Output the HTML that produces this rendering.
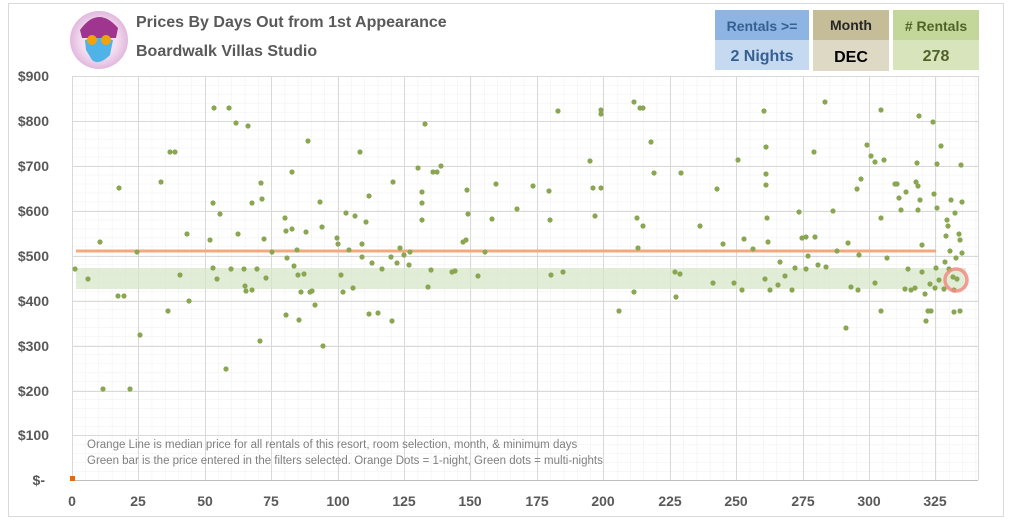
<!DOCTYPE html>
<html><head><meta charset="utf-8"><style>
body{margin:0;background:#fff;width:1009px;height:525px;overflow:hidden}
</style></head><body>
<svg width="1009" height="525" viewBox="0 0 1009 525" xmlns="http://www.w3.org/2000/svg" font-family="Liberation Sans, sans-serif">
<rect x="8.5" y="3.5" width="995" height="513" fill="#fff" stroke="#d9d9d9"/>
<defs>
<pattern id="minor" x="72" y="76" width="13.29" height="8.98" patternUnits="userSpaceOnUse">
<path d="M0 0H13.29M0 0V8.98" stroke="#efefef" stroke-width="1" fill="none"/>
</pattern>
<radialGradient id="lg" cx="50%" cy="50%" r="50%"><stop offset="0.6" stop-color="#f3dff0"/><stop offset="1" stop-color="#e2b8de"/></radialGradient>
</defs>
<rect x="72" y="76" width="906" height="404" fill="url(#minor)"/>
<g stroke="#d9d9d9" stroke-width="1">
<line x1="72" y1="76.5" x2="978" y2="76.5"/><line x1="72" y1="121.5" x2="978" y2="121.5"/><line x1="72" y1="166.5" x2="978" y2="166.5"/><line x1="72" y1="211.5" x2="978" y2="211.5"/><line x1="72" y1="256.5" x2="978" y2="256.5"/><line x1="72" y1="301.5" x2="978" y2="301.5"/><line x1="72" y1="346.5" x2="978" y2="346.5"/><line x1="72" y1="391.5" x2="978" y2="391.5"/><line x1="72" y1="435.5" x2="978" y2="435.5"/>
<line x1="72.5" y1="76" x2="72.5" y2="480"/><line x1="138.5" y1="76" x2="138.5" y2="480"/><line x1="205.5" y1="76" x2="205.5" y2="480"/><line x1="271.5" y1="76" x2="271.5" y2="480"/><line x1="338.5" y1="76" x2="338.5" y2="480"/><line x1="404.5" y1="76" x2="404.5" y2="480"/><line x1="470.5" y1="76" x2="470.5" y2="480"/><line x1="537.5" y1="76" x2="537.5" y2="480"/><line x1="603.5" y1="76" x2="603.5" y2="480"/><line x1="670.5" y1="76" x2="670.5" y2="480"/><line x1="736.5" y1="76" x2="736.5" y2="480"/><line x1="803.5" y1="76" x2="803.5" y2="480"/><line x1="869.5" y1="76" x2="869.5" y2="480"/><line x1="935.5" y1="76" x2="935.5" y2="480"/><line x1="978.5" y1="76" x2="978.5" y2="480"/>
</g>
<line x1="72" y1="480.5" x2="978" y2="480.5" stroke="#bfbfbf"/>
<rect x="76" y="268" width="890" height="21" fill="#d4e6c4" opacity="0.7"/>
<line x1="76" y1="251" x2="936" y2="251" stroke="#f4a97c" stroke-width="3"/>
<g fill="#595959" font-weight="bold" font-size="14" text-anchor="end">
<text x="49" y="81">$900</text><text x="49" y="126">$800</text><text x="49" y="171">$700</text><text x="49" y="216">$600</text><text x="49" y="261">$500</text><text x="49" y="306">$400</text><text x="49" y="351">$300</text><text x="49" y="396">$200</text><text x="49" y="440">$100</text><text x="45" y="485">$-</text>
</g>
<g fill="#595959" font-weight="bold" font-size="14" text-anchor="middle">
<text x="72" y="506">0</text><text x="138" y="506">25</text><text x="205" y="506">50</text><text x="271" y="506">75</text><text x="338" y="506">100</text><text x="404" y="506">125</text><text x="470" y="506">150</text><text x="537" y="506">175</text><text x="603" y="506">200</text><text x="670" y="506">225</text><text x="736" y="506">250</text><text x="803" y="506">275</text><text x="869" y="506">300</text><text x="935" y="506">325</text>
</g>
<g fill="#7f7f7f" font-size="11.5">
<text x="87" y="448">Orange Line is median price for all rentals of this resort, room selection, month, &amp; minimum days</text>
<text x="87" y="464">Green bar is the price entered in the filters selected. Orange Dots = 1-night, Green dots = multi-nights</text>
</g>
<rect x="70" y="476" width="5" height="5" fill="#e36c0a"/>
<g fill="#8aa652">
<circle cx="75" cy="269" r="2.6"/><circle cx="88" cy="279" r="2.6"/><circle cx="100" cy="242" r="2.6"/><circle cx="103" cy="389" r="2.6"/><circle cx="118" cy="296" r="2.6"/><circle cx="119" cy="188" r="2.6"/><circle cx="124" cy="296" r="2.6"/><circle cx="137" cy="252" r="2.6"/><circle cx="140" cy="335" r="2.6"/><circle cx="161" cy="182" r="2.6"/><circle cx="168" cy="311" r="2.6"/><circle cx="170" cy="152" r="2.6"/><circle cx="175" cy="152" r="2.6"/><circle cx="180" cy="275" r="2.6"/><circle cx="187" cy="234" r="2.6"/><circle cx="189" cy="301" r="2.6"/><circle cx="213" cy="268" r="2.6"/><circle cx="210" cy="240" r="2.6"/><circle cx="213" cy="203" r="2.6"/><circle cx="214" cy="108" r="2.6"/><circle cx="217" cy="279" r="2.6"/><circle cx="220" cy="214" r="2.6"/><circle cx="226" cy="369" r="2.6"/><circle cx="229" cy="108" r="2.6"/><circle cx="231" cy="269" r="2.6"/><circle cx="236" cy="123" r="2.6"/><circle cx="238" cy="234" r="2.6"/><circle cx="244" cy="269" r="2.6"/><circle cx="245" cy="286" r="2.6"/><circle cx="246" cy="291" r="2.6"/><circle cx="248" cy="126" r="2.6"/><circle cx="252" cy="203" r="2.6"/><circle cx="252" cy="290" r="2.6"/><circle cx="257" cy="269" r="2.6"/><circle cx="260" cy="341" r="2.6"/><circle cx="261" cy="183" r="2.6"/><circle cx="262" cy="199" r="2.6"/><circle cx="264" cy="239" r="2.6"/><circle cx="266" cy="278" r="2.6"/><circle cx="272" cy="252" r="2.6"/><circle cx="286" cy="315" r="2.6"/><circle cx="285" cy="218" r="2.6"/><circle cx="286" cy="231" r="2.6"/><circle cx="287" cy="258" r="2.6"/><circle cx="292" cy="172" r="2.6"/><circle cx="292" cy="229" r="2.6"/><circle cx="294" cy="266" r="2.6"/><circle cx="297" cy="250" r="2.6"/><circle cx="298" cy="275" r="2.6"/><circle cx="299" cy="320" r="2.6"/><circle cx="301" cy="292" r="2.6"/><circle cx="304" cy="274" r="2.6"/><circle cx="306" cy="232" r="2.6"/><circle cx="308" cy="141" r="2.6"/><circle cx="310" cy="292" r="2.6"/><circle cx="312" cy="291" r="2.6"/><circle cx="315" cy="305" r="2.6"/><circle cx="320" cy="202" r="2.6"/><circle cx="322" cy="227" r="2.6"/><circle cx="323" cy="346" r="2.6"/><circle cx="337" cy="238" r="2.6"/><circle cx="338" cy="244" r="2.6"/><circle cx="341" cy="275" r="2.6"/><circle cx="343" cy="292" r="2.6"/><circle cx="346" cy="213" r="2.6"/><circle cx="349" cy="250" r="2.6"/><circle cx="353" cy="288" r="2.6"/><circle cx="355" cy="216" r="2.6"/><circle cx="360" cy="152" r="2.6"/><circle cx="362" cy="244" r="2.6"/><circle cx="362" cy="257" r="2.6"/><circle cx="366" cy="222" r="2.6"/><circle cx="369" cy="314" r="2.6"/><circle cx="369" cy="196" r="2.6"/><circle cx="372" cy="263" r="2.6"/><circle cx="378" cy="313" r="2.6"/><circle cx="382" cy="269" r="2.6"/><circle cx="391" cy="257" r="2.6"/><circle cx="392" cy="321" r="2.6"/><circle cx="393" cy="182" r="2.6"/><circle cx="397" cy="263" r="2.6"/><circle cx="400" cy="248" r="2.6"/><circle cx="404" cy="255" r="2.6"/><circle cx="409" cy="265" r="2.6"/><circle cx="410" cy="252" r="2.6"/><circle cx="422" cy="220" r="2.6"/><circle cx="422" cy="203" r="2.6"/><circle cx="422" cy="192" r="2.6"/><circle cx="418" cy="168" r="2.6"/><circle cx="425" cy="124" r="2.6"/><circle cx="428" cy="287" r="2.6"/><circle cx="431" cy="270" r="2.6"/><circle cx="433" cy="172" r="2.6"/><circle cx="437" cy="172" r="2.6"/><circle cx="441" cy="166" r="2.6"/><circle cx="452" cy="272" r="2.6"/><circle cx="455" cy="271" r="2.6"/><circle cx="463" cy="242" r="2.6"/><circle cx="466" cy="240" r="2.6"/><circle cx="467" cy="190" r="2.6"/><circle cx="468" cy="214" r="2.6"/><circle cx="485" cy="252" r="2.6"/><circle cx="478" cy="276" r="2.6"/><circle cx="492" cy="219" r="2.6"/><circle cx="496" cy="184" r="2.6"/><circle cx="517" cy="209" r="2.6"/><circle cx="533" cy="186" r="2.6"/><circle cx="549" cy="191" r="2.6"/><circle cx="550" cy="220" r="2.6"/><circle cx="551" cy="275" r="2.6"/><circle cx="558" cy="111" r="2.6"/><circle cx="563" cy="272" r="2.6"/><circle cx="590" cy="161" r="2.6"/><circle cx="593" cy="188" r="2.6"/><circle cx="595" cy="216" r="2.6"/><circle cx="601" cy="114" r="2.6"/><circle cx="601" cy="110" r="2.6"/><circle cx="601" cy="188" r="2.6"/><circle cx="619" cy="311" r="2.6"/><circle cx="634" cy="102" r="2.6"/><circle cx="634" cy="292" r="2.6"/><circle cx="637" cy="218" r="2.6"/><circle cx="638" cy="248" r="2.6"/><circle cx="640" cy="108" r="2.6"/><circle cx="643" cy="108" r="2.6"/><circle cx="643" cy="226" r="2.6"/><circle cx="651" cy="142" r="2.6"/><circle cx="654" cy="173" r="2.6"/><circle cx="675" cy="272" r="2.6"/><circle cx="676" cy="297" r="2.6"/><circle cx="681" cy="173" r="2.6"/><circle cx="680" cy="274" r="2.6"/><circle cx="700" cy="226" r="2.6"/><circle cx="713" cy="283" r="2.6"/><circle cx="717" cy="189" r="2.6"/><circle cx="723" cy="244" r="2.6"/><circle cx="734" cy="283" r="2.6"/><circle cx="738" cy="160" r="2.6"/><circle cx="742" cy="290" r="2.6"/><circle cx="744" cy="239" r="2.6"/><circle cx="753" cy="249" r="2.6"/><circle cx="764" cy="111" r="2.6"/><circle cx="766" cy="147" r="2.6"/><circle cx="766" cy="185" r="2.6"/><circle cx="766" cy="174" r="2.6"/><circle cx="767" cy="218" r="2.6"/><circle cx="768" cy="242" r="2.6"/><circle cx="765" cy="279" r="2.6"/><circle cx="770" cy="290" r="2.6"/><circle cx="778" cy="285" r="2.6"/><circle cx="780" cy="262" r="2.6"/><circle cx="785" cy="276" r="2.6"/><circle cx="792" cy="290" r="2.6"/><circle cx="795" cy="268" r="2.6"/><circle cx="799" cy="212" r="2.6"/><circle cx="802" cy="238" r="2.6"/><circle cx="806" cy="237" r="2.6"/><circle cx="806" cy="269" r="2.6"/><circle cx="808" cy="256" r="2.6"/><circle cx="814" cy="152" r="2.6"/><circle cx="815" cy="237" r="2.6"/><circle cx="818" cy="265" r="2.6"/><circle cx="825" cy="102" r="2.6"/><circle cx="826" cy="267" r="2.6"/><circle cx="833" cy="211" r="2.6"/><circle cx="837" cy="251" r="2.6"/><circle cx="848" cy="243" r="2.6"/><circle cx="846" cy="328" r="2.6"/><circle cx="851" cy="287" r="2.6"/><circle cx="858" cy="290" r="2.6"/><circle cx="857" cy="189" r="2.6"/><circle cx="859" cy="255" r="2.6"/><circle cx="861" cy="179" r="2.6"/><circle cx="867" cy="145" r="2.6"/><circle cx="871" cy="156" r="2.6"/><circle cx="875" cy="162" r="2.6"/><circle cx="875" cy="283" r="2.6"/><circle cx="881" cy="311" r="2.6"/><circle cx="881" cy="110" r="2.6"/><circle cx="881" cy="218" r="2.6"/><circle cx="884" cy="160" r="2.6"/><circle cx="887" cy="258" r="2.6"/><circle cx="895" cy="184" r="2.6"/><circle cx="897" cy="184" r="2.6"/><circle cx="899" cy="198" r="2.6"/><circle cx="901" cy="210" r="2.6"/><circle cx="905" cy="289" r="2.6"/><circle cx="906" cy="192" r="2.6"/><circle cx="908" cy="269" r="2.6"/><circle cx="911" cy="290" r="2.6"/><circle cx="915" cy="288" r="2.6"/><circle cx="916" cy="182" r="2.6"/><circle cx="918" cy="186" r="2.6"/><circle cx="917" cy="163" r="2.6"/><circle cx="919" cy="116" r="2.6"/><circle cx="918" cy="210" r="2.6"/><circle cx="920" cy="200" r="2.6"/><circle cx="922" cy="245" r="2.6"/><circle cx="922" cy="272" r="2.6"/><circle cx="925" cy="294" r="2.6"/><circle cx="926" cy="321" r="2.6"/><circle cx="928" cy="311" r="2.6"/><circle cx="930" cy="284" r="2.6"/><circle cx="931" cy="311" r="2.6"/><circle cx="933" cy="122" r="2.6"/><circle cx="934" cy="194" r="2.6"/><circle cx="936" cy="268" r="2.6"/><circle cx="935" cy="288" r="2.6"/><circle cx="937" cy="164" r="2.6"/><circle cx="937" cy="208" r="2.6"/><circle cx="939" cy="280" r="2.6"/><circle cx="941" cy="146" r="2.6"/><circle cx="944" cy="289" r="2.6"/><circle cx="945" cy="262" r="2.6"/><circle cx="946" cy="236" r="2.6"/><circle cx="947" cy="220" r="2.6"/><circle cx="948" cy="226" r="2.6"/><circle cx="949" cy="269" r="2.6"/><circle cx="950" cy="251" r="2.6"/><circle cx="951" cy="200" r="2.6"/><circle cx="953" cy="277" r="2.6"/><circle cx="954" cy="290" r="2.6"/><circle cx="955" cy="213" r="2.6"/><circle cx="956" cy="258" r="2.6"/><circle cx="957" cy="279" r="2.6"/><circle cx="959" cy="234" r="2.6"/><circle cx="960" cy="240" r="2.6"/><circle cx="961" cy="165" r="2.6"/><circle cx="962" cy="253" r="2.6"/><circle cx="960" cy="311" r="2.6"/><circle cx="962" cy="202" r="2.6"/><circle cx="954" cy="312" r="2.6"/><circle cx="130" cy="389" r="2.6"/>
</g>
<circle cx="956" cy="280" r="11" fill="none" stroke="#f28b82" stroke-width="3.5" opacity="0.85"/>
<circle cx="99" cy="40" r="29" fill="url(#lg)"/>
<path d="M80 30 Q98 5 118 28 L116 38 L82 38 Z" fill="#a0358f"/>
<path d="M85 40 Q99 36 113 40 L110 55 Q99 66 92 60 L86 50 Z" fill="#4fb3e8"/>
<circle cx="92" cy="40" r="5" fill="#f2a20c"/><circle cx="106" cy="40" r="5" fill="#f2a20c"/>
<g font-weight="bold" fill="#595959">
<text x="136" y="27" font-size="16">Prices By Days Out from 1st Appearance</text>
<text x="136" y="56" font-size="16">Boardwalk Villas Studio</text>
</g>
<rect x="715" y="10" width="94" height="30" fill="#8db4e2"/><rect x="715" y="40" width="94" height="30" fill="#c5d9f1"/>
<rect x="813" y="10" width="76" height="30" fill="#c4bd97"/><rect x="813" y="40" width="76" height="31" fill="#ddd9c4"/>
<rect x="893" y="10" width="86" height="30" fill="#c4d79b"/><rect x="893" y="40" width="86" height="30" fill="#d8e4bc"/>
<g font-weight="bold" text-anchor="middle">
<text x="762" y="31" font-size="14" fill="#366092">Rentals &gt;=</text>
<text x="762" y="61" font-size="16" fill="#366092">2 Nights</text>
<text x="851" y="30" font-size="14" fill="#262626">Month</text>
<text x="851" y="62" font-size="16" fill="#000">DEC</text>
<text x="936" y="31" font-size="14" fill="#4f6228"># Rentals</text>
<text x="936" y="61" font-size="16" fill="#4f6228">278</text>
</g>
</svg>
</body></html>
